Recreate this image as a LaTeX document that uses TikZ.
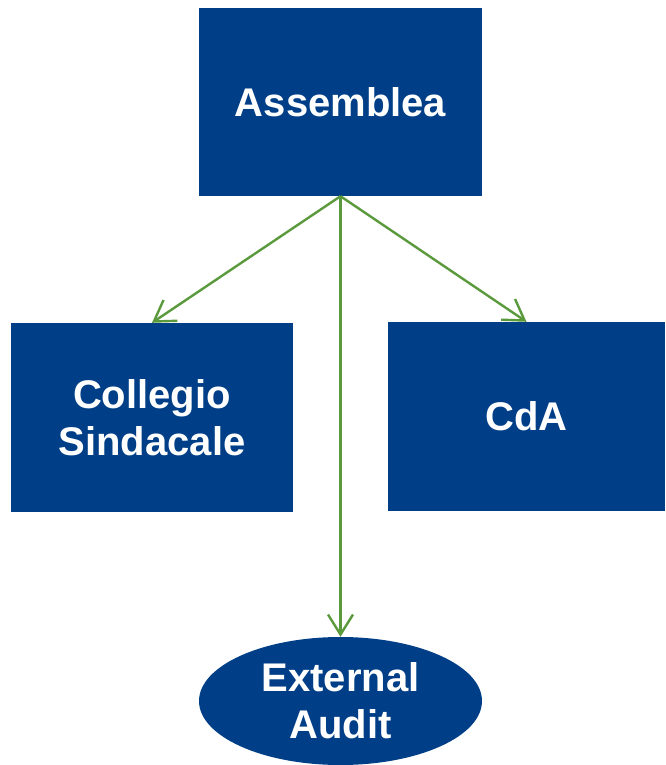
\documentclass[tikz,border=0pt]{standalone}
\usepackage{fontspec}
\setmainfont{Liberation Sans}
\usetikzlibrary{arrows.meta,shapes.geometric}
\definecolor{boxblue}{HTML}{003F87}
\definecolor{linkgreen}{HTML}{5A9A3C}
\begin{document}
\begin{tikzpicture}[x=1pt,y=-1pt,
  orgbox/.style={rectangle,fill=boxblue,draw=none,inner sep=0pt,
    text=white,font=\fontsize{40}{47}\selectfont\bfseries,align=center},
  link/.style={draw=linkgreen,line width=2.4pt,
    -{Straight Barb[length=20pt,width=25pt,line width=2.4pt]}}]
\useasboundingbox (0,0) rectangle (665,765);
\node[orgbox,minimum width=283pt,minimum height=188pt] (assemblea) at (340.5,102) {Assemblea};
\node[orgbox,minimum width=282pt,minimum height=189pt] (collegio) at (152,417.5) {Collegio\\Sindacale};
\node[orgbox,minimum width=277pt,minimum height=189pt] (cda) at (526.5,416.5) {CdA};
\node[orgbox,ellipse,minimum width=283pt,minimum height=128pt] (audit) at (340.5,701) {External\\Audit};
\draw[link] (assemblea.south) -- (collegio.north);
\draw[link] (assemblea.south) -- (cda.north);
\draw[link] (assemblea.south) -- (audit.north);
\end{tikzpicture}
\end{document}
